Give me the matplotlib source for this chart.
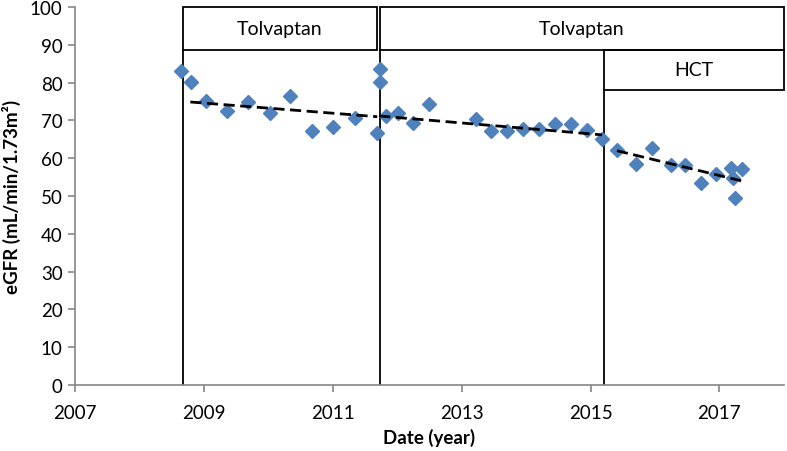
import matplotlib
matplotlib.use("Agg")
import matplotlib.pyplot as plt
from matplotlib.patches import Rectangle

plt.rcParams['font.family'] = ['Lato', 'DejaVu Sans']

# eGFR measurements (decimal year, mL/min/1.73m2)
years = [2008.64, 2008.80, 2009.03, 2009.36, 2009.69, 2010.02, 2010.34, 2010.68,
         2011.01, 2011.35, 2011.69, 2011.74, 2011.73, 2011.83, 2012.01, 2012.24,
         2012.49, 2013.22, 2013.45, 2013.70, 2013.95, 2014.20, 2014.45, 2014.70,
         2014.95, 2015.18, 2015.41, 2015.70, 2015.96, 2016.25, 2016.47, 2016.72,
         2016.95, 2017.18, 2017.21, 2017.24, 2017.35]
egfr = [83.1, 80.1, 75.2, 72.4, 75.0, 72.1, 76.4, 67.3,
        68.4, 70.6, 66.7, 83.6, 80.3, 71.2, 72.0, 69.3,
        74.3, 70.5, 67.3, 67.1, 67.7, 67.7, 69.2, 69.0,
        67.5, 65.0, 62.2, 58.5, 62.6, 58.2, 58.2, 53.4,
        55.8, 57.3, 54.7, 49.6, 57.1]

# linear trend segments (start/end year, start/end value)
trend_x = [[2008.79, 2011.69], [2011.72, 2015.18], [2015.41, 2017.35]]
trend_y = [[74.9, 71.0], [71.2, 66.2], [62.0, 54.0]]

# treatment periods
periods = ["Tolvaptan", "Tolvaptan", "HCT"]
period_start = [2008.68, 2011.73, 2015.21]
period_end = [2011.68, 2018.0, 2018.0]

fig = plt.figure(figsize=(7.87, 4.52), dpi=100)
ax = fig.add_axes([0.0953, 0.146, 0.9007, 0.836])

gray = "#868686"
ax.plot(years, egfr, linestyle="none", marker="D", markersize=7.5,
        color="#4F81BD", zorder=3)
for tx, ty in zip(trend_x, trend_y):
    ax.plot(tx, ty, color="black", linestyle=(0, (4, 2)), linewidth=2.0, zorder=4)

# boxes for treatments
rows = [(88.7, 100.0), (88.7, 100.0), (78.1, 88.7)]
for name, s, e, (lo, hi) in zip(periods, period_start, period_end, rows):
    ax.add_patch(Rectangle((s, lo), e - s, hi - lo, fill=False, edgecolor="black",
                           linewidth=1.3, clip_on=False, zorder=5))
    ax.plot([s, s], [0, lo], color="black", linewidth=1.3, zorder=2)
    ax.text((s + e) / 2, (lo + hi) / 2, name, ha="center", va="center",
            fontsize=14, zorder=6)

ax.set_xlim(2007, 2018)
ax.set_ylim(0, 100)
ax.set_xticks([2007, 2009, 2011, 2013, 2015, 2017])
ax.set_yticks(range(0, 101, 10))
ax.spines["top"].set_visible(False)
ax.spines["right"].set_visible(False)
for sp in ["left", "bottom"]:
    ax.spines[sp].set_color(gray)
    ax.spines[sp].set_linewidth(1.2)
ax.tick_params(direction="out", length=5, color=gray, width=1.2,
               labelsize=13.5, labelcolor="black")
ax.tick_params(axis="x", pad=9)
ax.tick_params(axis="y", pad=4)

ax.set_xlabel("Date (year)", fontsize=13.5, fontweight="bold", labelpad=5)
ax.set_ylabel("eGFR (mL/min/1.73m²)", fontsize=13.5, fontweight="bold", labelpad=6)

fig.savefig("out.png", dpi=100)
